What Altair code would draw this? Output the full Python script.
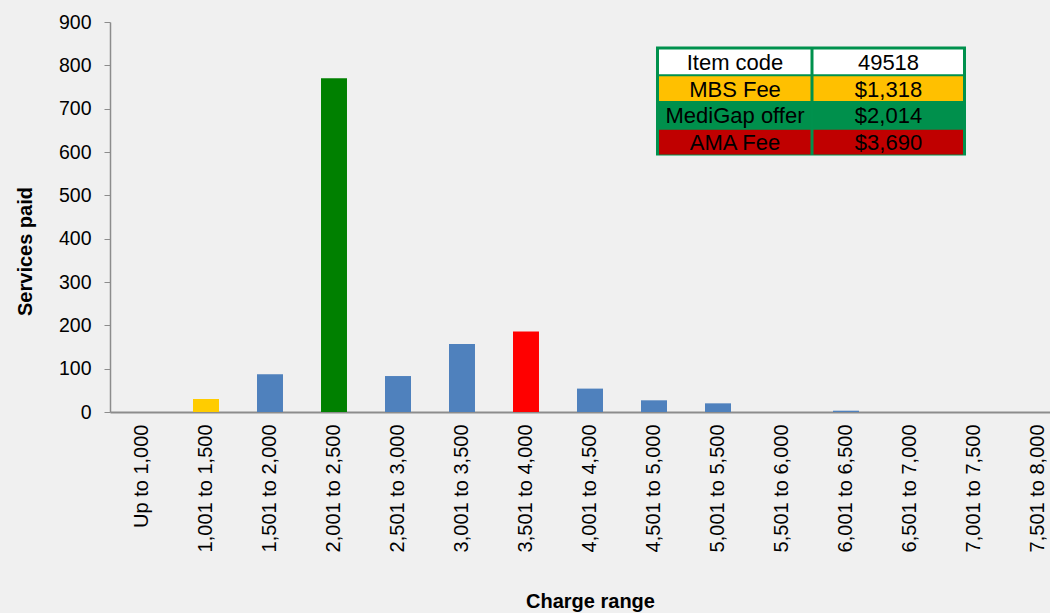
import altair as alt
import pandas as pd

# ---- data ----
categories = ["Up to 1,000", "1,001 to 1,500", "1,501 to 2,000", "2,001 to 2,500",
              "2,501 to 3,000", "3,001 to 3,500", "3,501 to 4,000", "4,001 to 4,500",
              "4,501 to 5,000", "5,001 to 5,500", "5,501 to 6,000", "6,001 to 6,500",
              "6,501 to 7,000", "7,001 to 7,500", "7,501 to 8,000"]
services_paid = [0, 30, 87, 770, 83, 157, 186, 54, 27, 20, 0, 3, 0, 0, 0]
bar_group = ["Other", "MBS Fee", "Other", "MediGap offer", "Other", "Other", "AMA Fee",
             "Other", "Other", "Other", "Other", "Other", "Other", "Other", "Other"]

table_labels = ["Item code", "MBS Fee", "MediGap offer", "AMA Fee"]
table_values = ["49518", "$1,318", "$2,014", "$3,690"]

# ---- styles ----
group_names = ["Other", "MBS Fee", "MediGap offer", "AMA Fee"]
group_colors = ["#4F81BD", "#FFCC00", "#008000", "#FF0000"]
row_fills = ["#FFFFFF", "#FFC000", "#00904C", "#C00000"]
FONT = "Liberation Sans"
PAD_L, PAD_T = 110, 22

df = pd.DataFrame({"range": categories, "paid": services_paid, "group": bar_group})

bars = alt.Chart(df).mark_bar(clip=True).encode(
    x=alt.X("range:N", sort=categories, title="Charge range",
            scale=alt.Scale(range=[0, 960], paddingInner=0.594, paddingOuter=0.297),
            axis=alt.Axis(labelAngle=-90, labelFontSize=20, labelFont=FONT, labelColor="#000000",
                          ticks=False, labelPadding=12, domainColor="#8C8C8C", domainWidth=2,
                          titleFontSize=20, titleFont=FONT, titleFontWeight="bold",
                          titleColor="#000000", titlePadding=40)),
    y=alt.Y("paid:Q", title="Services paid",
            scale=alt.Scale(domain=[0, 900], nice=False),
            axis=alt.Axis(values=list(range(0, 901, 100)), grid=False, labelFontSize=19.5,
                          labelFont=FONT, labelColor="#000000", tickSize=6, tickColor="#8C8C8C",
                          domainColor="#8C8C8C", domainWidth=1.5, labelPadding=13,
                          titleFontSize=20, titleFont=FONT, titleFontWeight="bold",
                          titleColor="#000000", titleX=-75, titleY=229)),
    color=alt.Color("group:N", scale=alt.Scale(domain=group_names, range=group_colors), legend=None),
)

# ---- info table (annotation), coordinates relative to plot origin ----
tdf = pd.DataFrame({
    "row": [0, 1, 2, 3] * 2,
    "col": [0] * 4 + [1] * 4,
    "text": table_labels + table_values,
    "fill": row_fills * 2,
})
tx0, tx_split, tx1 = 656 - PAD_L, 812 - PAD_L, 966 - PAD_L
ty0, row_h = 47 - PAD_T, 26.75

frame = alt.Chart(pd.DataFrame({"a": [0]})).mark_rect(color="#00914D").encode(
    x=alt.value(tx0), x2=alt.value(tx1), y=alt.value(ty0 - 0.5), y2=alt.value(ty0 + 4 * row_h + 1.5)
)

cells = alt.Chart(tdf).transform_calculate(
    cx0=f"datum.col == 0 ? {tx0 + 3} : {tx_split + 1.5}",
    cx1=f"datum.col == 0 ? {tx_split - 1.5} : {tx1 - 3}",
    cy0=f"{ty0 + 2.5} + datum.row * {row_h}",
    cy1=f"{ty0 + 2.5} + datum.row * {row_h} + {row_h - 2}",
    cxm=f"datum.col == 0 ? {(tx0 + tx_split) / 2 + 1} : {(tx_split + tx1) / 2 - 0.5}",
    cym=f"{ty0 + 2.5} + datum.row * {row_h} + {(row_h - 2) / 2}",
)

cell_rects = cells.mark_rect().encode(
    x=alt.X("cx0:Q", scale=None, axis=None), x2="cx1:Q",
    y=alt.Y("cy0:Q", scale=None, axis=None), y2="cy1:Q",
    fill=alt.Fill("fill:N", scale=None),
)
cell_text = cells.mark_text(font=FONT, fontSize=22, color="#000000", baseline="middle",
                            align="center", dy=1).encode(
    x=alt.X("cxm:Q", scale=None, axis=None),
    y=alt.Y("cym:Q", scale=None, axis=None),
    text="text:N",
)

chart = alt.layer(bars, frame, cell_rects, cell_text).properties(
    width=940, height=390,
    autosize=alt.AutoSizeParams(type="none"),
    padding={"left": PAD_L, "top": PAD_T, "right": 0, "bottom": 201},
    background="#F0F0F0",
).configure_view(stroke=None)

chart.save("out.html", embed_options={"renderer": "svg", "actions": False})
